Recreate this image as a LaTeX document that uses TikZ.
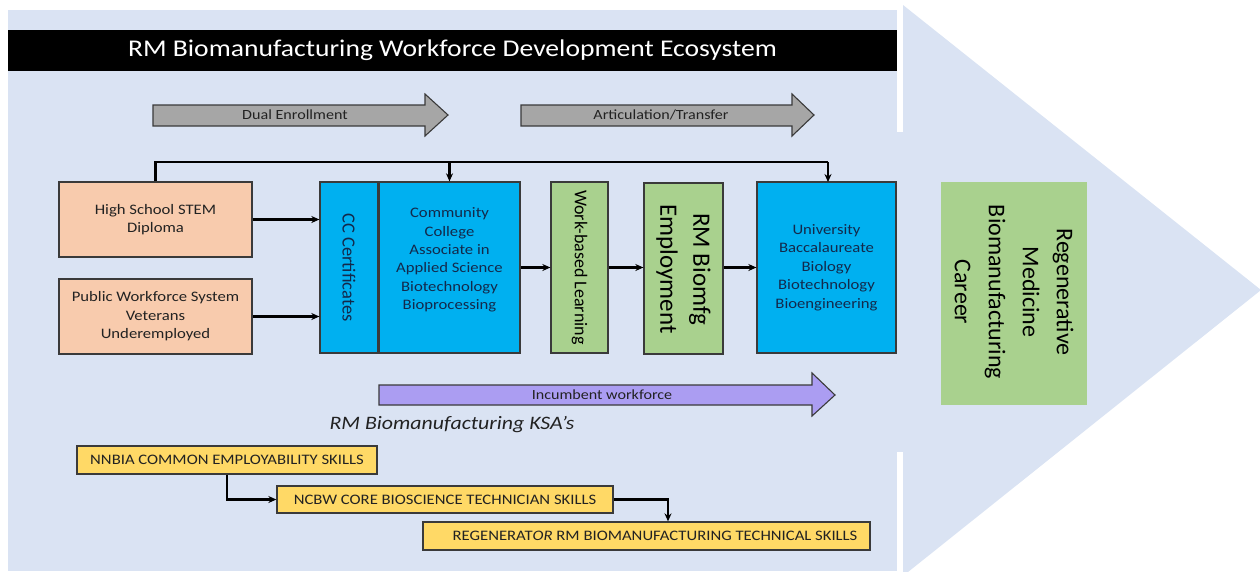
\documentclass[tikz,border=0pt]{standalone}
\usepackage{fontspec}
\setmainfont{Carlito}[FakeStretch=1.15]
\newfontfamily\rotfont{Carlito}
\usetikzlibrary{arrows.meta}
\definecolor{bgblue}{HTML}{DAE3F3}
\definecolor{boxblue}{HTML}{00B0F0}
\definecolor{boxgreen}{HTML}{A9D18E}
\definecolor{boxpeach}{HTML}{F8CBAD}
\definecolor{boxyellow}{HTML}{FFD966}
\definecolor{arrgray}{HTML}{A6A6A6}
\definecolor{arrpurple}{HTML}{AB9DF2}
\definecolor{bordc}{HTML}{3A3A3A}
\definecolor{navytext}{HTML}{13294B}
\definecolor{darktext}{HTML}{222222}
\tikzset{
  box/.style={draw=bordc, line width=1.3pt, inner sep=0pt, align=center},
  bodytext/.style={font=\fontsize{14.5}{18.4}\selectfont, align=center},
  rottext/.style={rotate=-90, align=center, text=black},
  ybox/.style={box, fill=boxyellow, text=darktext, font=\fontsize{14.5}{17}\selectfont},
  blockarrow/.style={draw=bordc, line width=1.1pt},
  conn/.style={line width=2.1pt, -{Stealth[length=8pt,width=7pt]}},
  line/.style={line width=2.1pt}
}
\begin{document}
\begin{tikzpicture}[x=1pt,y=-1pt]
\useasboundingbox (0,0) rectangle (1260,571);
% background chevron
\fill[bgblue] (8,10) rectangle (903,571);
\fill[bgblue] (903,5) -- (1261,290) -- (903,576) -- cycle;
\fill[white] (897,5) rectangle (903,132);
\fill[white] (897,452) rectangle (903,571);
% title bar
\node[fill=black, minimum width=889pt, minimum height=41pt, inner sep=0pt, text=white,
      font=\fontsize{24}{28}\selectfont] (title) at (452.5,50) {RM Biomanufacturing Workforce Development Ecosystem};
% gray block arrows
\draw[blockarrow, fill=arrgray] (153,105) -- (425,105) -- (425,94) -- (448,115) -- (425,136) -- (425,126) -- (153,126) -- cycle;
\node[font=\fontsize{14}{17}\selectfont, text=darktext] (dual) at (295,115) {Dual Enrollment};
\draw[blockarrow, fill=arrgray] (521,105) -- (792,105) -- (792,94) -- (814,115) -- (792,136) -- (792,126) -- (521,126) -- cycle;
\node[font=\fontsize{14}{17}\selectfont, text=darktext] (artic) at (661,115) {Articulation/Transfer};
% left boxes
\node[box, fill=boxpeach, minimum width=193pt, minimum height=75pt, bodytext, text=darktext] (hs) at (155.5,219.5) {High School STEM\\Diploma};
\node[box, fill=boxpeach, minimum width=193pt, minimum height=75pt, bodytext, text=darktext] (pw) at (155.5,316.5) {Public Workforce System\\Veterans\\Underemployed};
% CC certificates
\node[box, fill=boxblue, minimum width=58pt, minimum height=171pt] (cc) at (349,267.5) {};
\node[rottext, text=navytext, font=\rotfont\fontsize{18.5}{21}\selectfont] (cctext) at (cc.center) {CC Certificates};
% community college
\node[box, fill=boxblue, minimum width=141pt, minimum height=171pt] (ccol) at (449.5,267.5) {};
\node[bodytext, text=navytext, inner sep=0pt] (ccoltext) at (449.5,260) {Community\\College\\Associate in\\Applied Science\\Biotechnology\\Bioprocessing};
% work-based learning
\node[box, fill=boxgreen, minimum width=57pt, minimum height=171pt] (wbl) at (579.5,267.5) {};
\node[rottext, font=\rotfont\fontsize{18}{21}\selectfont] (wbltext) at (wbl.center) {Work-based Learning};
% employment
\node[box, fill=boxgreen, minimum width=79pt, minimum height=171pt] (emp) at (683.5,268.5) {};
\node[rottext, font=\rotfont\fontsize{25}{33}\selectfont] (emptext) at (683.5,269) {RM Biomfg\\Employment};
% university
\node[box, fill=boxblue, minimum width=139pt, minimum height=171pt, bodytext, text=navytext] (univ) at (826.5,267.5) {University\\Baccalaureate\\Biology\\Biotechnology\\Bioengineering};
% career
\node[fill=boxgreen, minimum width=146pt, minimum height=223pt, inner sep=0pt] (career) at (1014,293.5) {};
\node[rottext, font=\rotfont\fontsize{24}{34}\selectfont] (careertext) at (1014,292) {Regenerative\\Medicine\\Biomanufacturing\\Career};
% connectors
\coordinate (bus) at (0,162);
\draw[line] (hs.north) -- (hs.north |- bus) -- (828,162);
\draw[conn] (828,162) -- (828,182);
\draw[conn] (ccol.north |- bus) -- (ccol.north);
\draw[conn] (hs.east) -- (hs.east -| cc.west);
\draw[conn] (pw.east) -- (pw.east -| cc.west);
\draw[conn] (ccol.east) -- (ccol.east -| wbl.west);
\draw[conn] (wbl.east) -- (wbl.east -| emp.west);
\draw[conn] (emp.east |- wbl.east) -- (wbl.east -| univ.west);
% incumbent workforce arrow
\draw[blockarrow, fill=arrpurple] (379,385) -- (812,385) -- (812,373) -- (835,395) -- (812,416) -- (812,405) -- (379,405) -- cycle;
\node[font=\fontsize{14}{17}\selectfont, text=darktext] (incumb) at (602,395) {Incumbent workforce};
% KSA label
\node[font=\fontsize{19}{22}\selectfont\itshape, text=darktext] (ksa) at (452,425) {RM Biomanufacturing KSA’s};
% skills boxes
\node[ybox, minimum width=300pt, minimum height=28pt] (nn) at (227,460) {NNBIA COMMON EMPLOYABILITY SKILLS};
\node[ybox, minimum width=336pt, minimum height=27pt] (nc) at (445,499.5) {NCBW CORE BIOSCIENCE TECHNICIAN SKILLS};
\node[ybox, minimum width=447pt, minimum height=28pt] (rg) at (646.5,536) {\hspace*{17pt}REGENERAT\textit{OR} RM BIOMANUFACTURING TECHNICAL SKILLS};
\draw[conn] (nn.south) |- (nc.west);
\draw[conn] (nc.east) -| ([xshift=21.5pt]rg.north);
\end{tikzpicture}
\end{document}
